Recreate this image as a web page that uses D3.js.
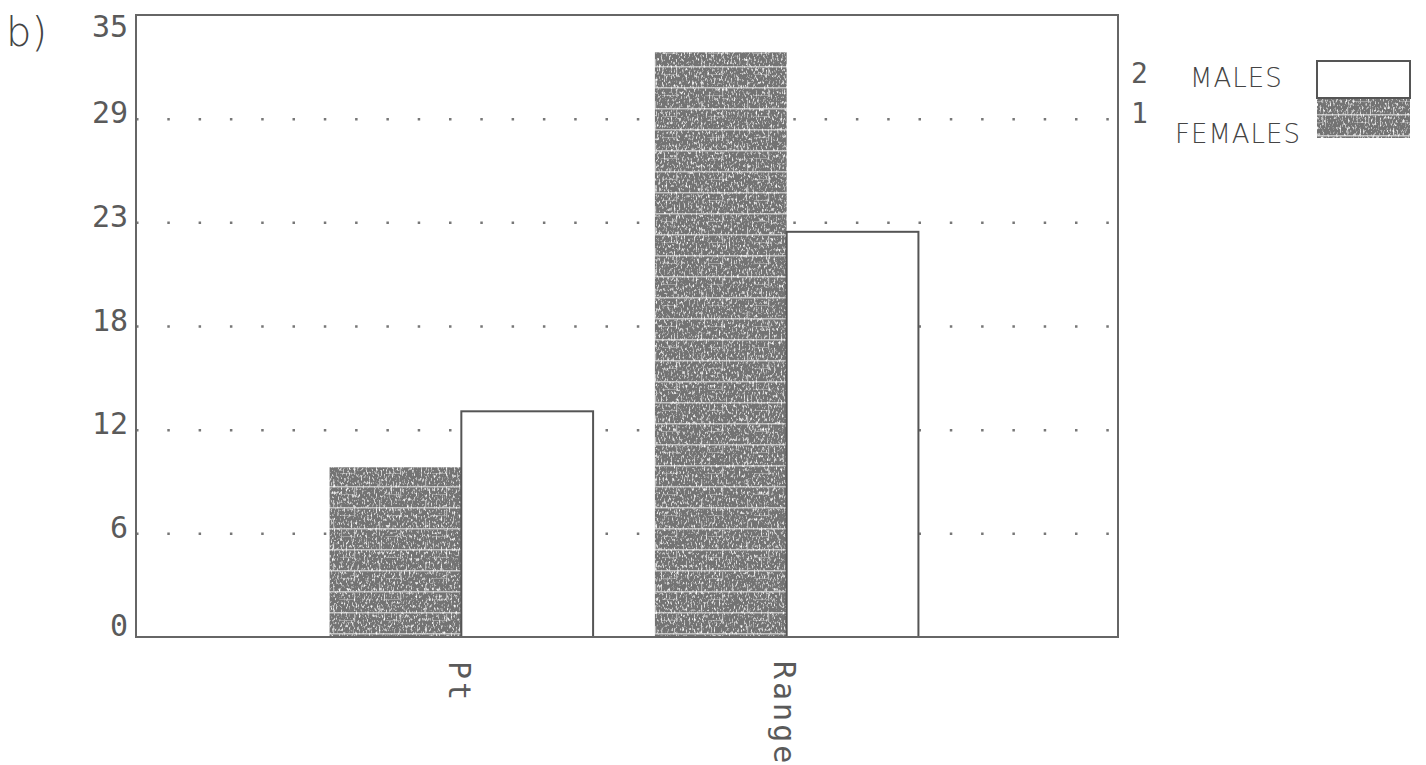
<!DOCTYPE html>
<html>
<head>
<meta charset="utf-8">
<script src="https://cdn.jsdelivr.net/npm/d3@7"></script>
<style>
  body { margin: 0; background: #fff; }
  .tick-label, .cat-label, .key-num { font-family: "DejaVu Sans Mono", monospace; fill: #5a5a5a; }
  .hand { font-family: "DejaVu Sans", sans-serif; font-weight: 200; fill: #444; }
</style>
</head>
<body>
<div class="bar-chart-container"></div>
<script>
//Data
const categories = ['Pt', 'Range'];
const series = ['FEMALES', 'MALES'];
const femaleValues = [9.55, 32.9];
const maleValues = [12.7, 22.8];
const yTickValues = [0, 35 / 6, 70 / 6, 17.5, 140 / 6, 175 / 6, 35];
const yTickLabels = ['0', '6', '12', '18', '23', '29', '35'];
const legendKeys = ['2', '1'];
const legendLabels = ['MALES', 'FEMALES'];

//Data Prep
function prepareData(){
    const rows = [];
    categories.forEach((c, i) => {
        rows.push({cat: c, sex: 'FEMALES', value: femaleValues[i]});
        rows.push({cat: c, sex: 'MALES', value: maleValues[i]});
    });
    return rows;
}

function ready(){
    const data = prepareData();

    //Margin Convention
    const margin = {top: 15, right: 308, bottom: 128, left: 136};
    const width = 1426 - margin.left - margin.right;
    const height = 765 - margin.top - margin.bottom;

    //Scales
    const yScale = d3.scaleLinear([0, 35], [height, 0]);

    const xScale = d3.scalePoint()
        .domain(categories)
        .range([0, width - 6])
        .padding(1);

    const groupWidth = xScale.step() * 0.81;
    const sexScale = d3.scaleBand()
        .domain(series)
        .range([-groupWidth / 2, groupWidth / 2]);

    const root = d3.select('.bar-chart-container')
        .append('svg')
        .attr('width', 1426)
        .attr('height', 765);

    //Texture for the shaded bars
    const defs = root.append('defs');
    const pat = defs.append('pattern')
        .attr('id', 'shade')
        .attr('patternUnits', 'userSpaceOnUse')
        .attr('width', 46)
        .attr('height', 21);
    pat.append('rect').attr('width', 46).attr('height', 21).attr('fill', '#737373');
    pat.append('rect').attr('x', 0).attr('y', 9).attr('width', 46).attr('height', 1.5).attr('fill', '#d8d8d8').attr('opacity', 0.8);
    pat.append('rect').attr('x', 13).attr('y', 2).attr('width', 1.2).attr('height', 7).attr('fill', '#cfcfcf').attr('opacity', 0.7);
    pat.append('rect').attr('x', 34).attr('y', 11).attr('width', 1.2).attr('height', 8).attr('fill', '#cfcfcf').attr('opacity', 0.7);
    pat.append('rect').attr('x', 20).attr('y', 17).attr('width', 14).attr('height', 1).attr('fill', '#bbb').attr('opacity', 0.6);

    const grain = defs.append('filter')
        .attr('id', 'grain')
        .attr('x', 0).attr('y', 0).attr('width', 1).attr('height', 1);
    grain.append('feTurbulence')
        .attr('type', 'fractalNoise')
        .attr('baseFrequency', '0.6 0.3')
        .attr('numOctaves', 2)
        .attr('seed', 4)
        .attr('result', 'n');
    grain.append('feColorMatrix')
        .attr('in', 'n')
        .attr('type', 'matrix')
        .attr('values', '0 0 0 0 1  0 0 0 0 1  0 0 0 0 1  3.2 0 0 0 -1.7')
        .attr('result', 'w');
    grain.append('feComposite')
        .attr('in', 'w').attr('in2', 'SourceAlpha').attr('operator', 'in')
        .attr('result', 'wc');
    const merge = grain.append('feMerge');
    merge.append('feMergeNode').attr('in', 'SourceGraphic');
    merge.append('feMergeNode').attr('in', 'wc');

    const svg = root.append('g')
        .attr('transform', `translate(${margin.left}, ${margin.top})`);

    //Dotted grid (drawn under the bars)
    const grid = svg.append('g')
        .attr('class', 'grid')
        .call(d3.axisLeft(yScale)
            .tickValues(yTickValues.slice(1, -1))
            .tickSize(-width)
            .tickFormat(''));
    grid.select('.domain').remove();
    grid.selectAll('line')
        .attr('stroke', '#777')
        .attr('stroke-width', 2.5)
        .attr('stroke-dasharray', '2.5 28.8');

    //Draw bars
    svg.selectAll('.bar')
        .data(data)
        .enter()
        .append('rect')
        .attr('class', 'bar')
        .attr('x', d => xScale(d.cat) + sexScale(d.sex))
        .attr('y', d => yScale(d.value))
        .attr('width', sexScale.bandwidth())
        .attr('height', d => height - yScale(d.value))
        .attr('fill', d => d.sex === 'FEMALES' ? 'url(#shade)' : '#fff')
        .attr('filter', d => d.sex === 'FEMALES' ? 'url(#grain)' : null)
        .attr('stroke', d => d.sex === 'MALES' ? '#555' : 'none')
        .attr('stroke-width', 2);

    //Frame
    svg.append('rect')
        .attr('width', width)
        .attr('height', height)
        .attr('fill', 'none')
        .attr('stroke', '#666')
        .attr('stroke-width', 2);

    //Y axis labels
    const yAxis = svg.append('g')
        .attr('class', 'y axis')
        .call(d3.axisLeft(yScale)
            .tickValues(yTickValues)
            .tickSize(0)
            .tickPadding(8)
            .tickFormat((d, i) => yTickLabels[i]));
    yAxis.select('.domain').remove();
    yAxis.selectAll('text')
        .attr('class', 'tick-label')
        .attr('fill', null)
        .style('font-size', '30px')
        .attr('dy', (d, i) => i === 0 ? '-0.05em' : i === yTickValues.length - 1 ? '0.72em' : '0.14em');

    //X axis labels, rotated
    svg.append('g')
        .attr('class', 'x axis')
        .selectAll('text')
        .data(categories)
        .enter()
        .append('text')
        .attr('class', 'cat-label')
        .attr('transform', d => `translate(${xScale(d) - 2}, ${height + 24}) rotate(90)`)
        .attr('dy', '0.36em')
        .style('font-size', '30px')
        .style('letter-spacing', '3px')
        .text(d => d);

    //Legend
    const legend = root.append('g').attr('class', 'legend');
    legend.selectAll('.key-num')
        .data(legendKeys)
        .enter()
        .append('text')
        .attr('class', 'key-num')
        .attr('x', 1131)
        .attr('y', (d, i) => 83 + i * 40)
        .style('font-size', '28px')
        .text(d => d);

    legend.selectAll('.hand')
        .data(legendLabels)
        .enter()
        .append('text')
        .attr('class', 'hand')
        .attr('x', (d, i) => i === 0 ? 1190 : 1175)
        .attr('y', (d, i) => i === 0 ? 87 : 143)
        .style('font-size', '26px')
        .style('letter-spacing', '1px')
        .text(d => d);

    legend.append('rect')
        .attr('x', 1317).attr('y', 98).attr('width', 93).attr('height', 40)
        .attr('fill', 'url(#shade)')
        .attr('filter', 'url(#grain)');
    legend.append('rect')
        .attr('x', 1317).attr('y', 61).attr('width', 93).attr('height', 37)
        .attr('fill', '#fff')
        .attr('stroke', '#555')
        .attr('stroke-width', 2);

    //Panel mark
    root.append('text')
        .attr('class', 'hand')
        .attr('x', 6)
        .attr('y', 46)
        .style('font-size', '40px')
        .text('b)');
}

ready();
</script>
</body>
</html>
